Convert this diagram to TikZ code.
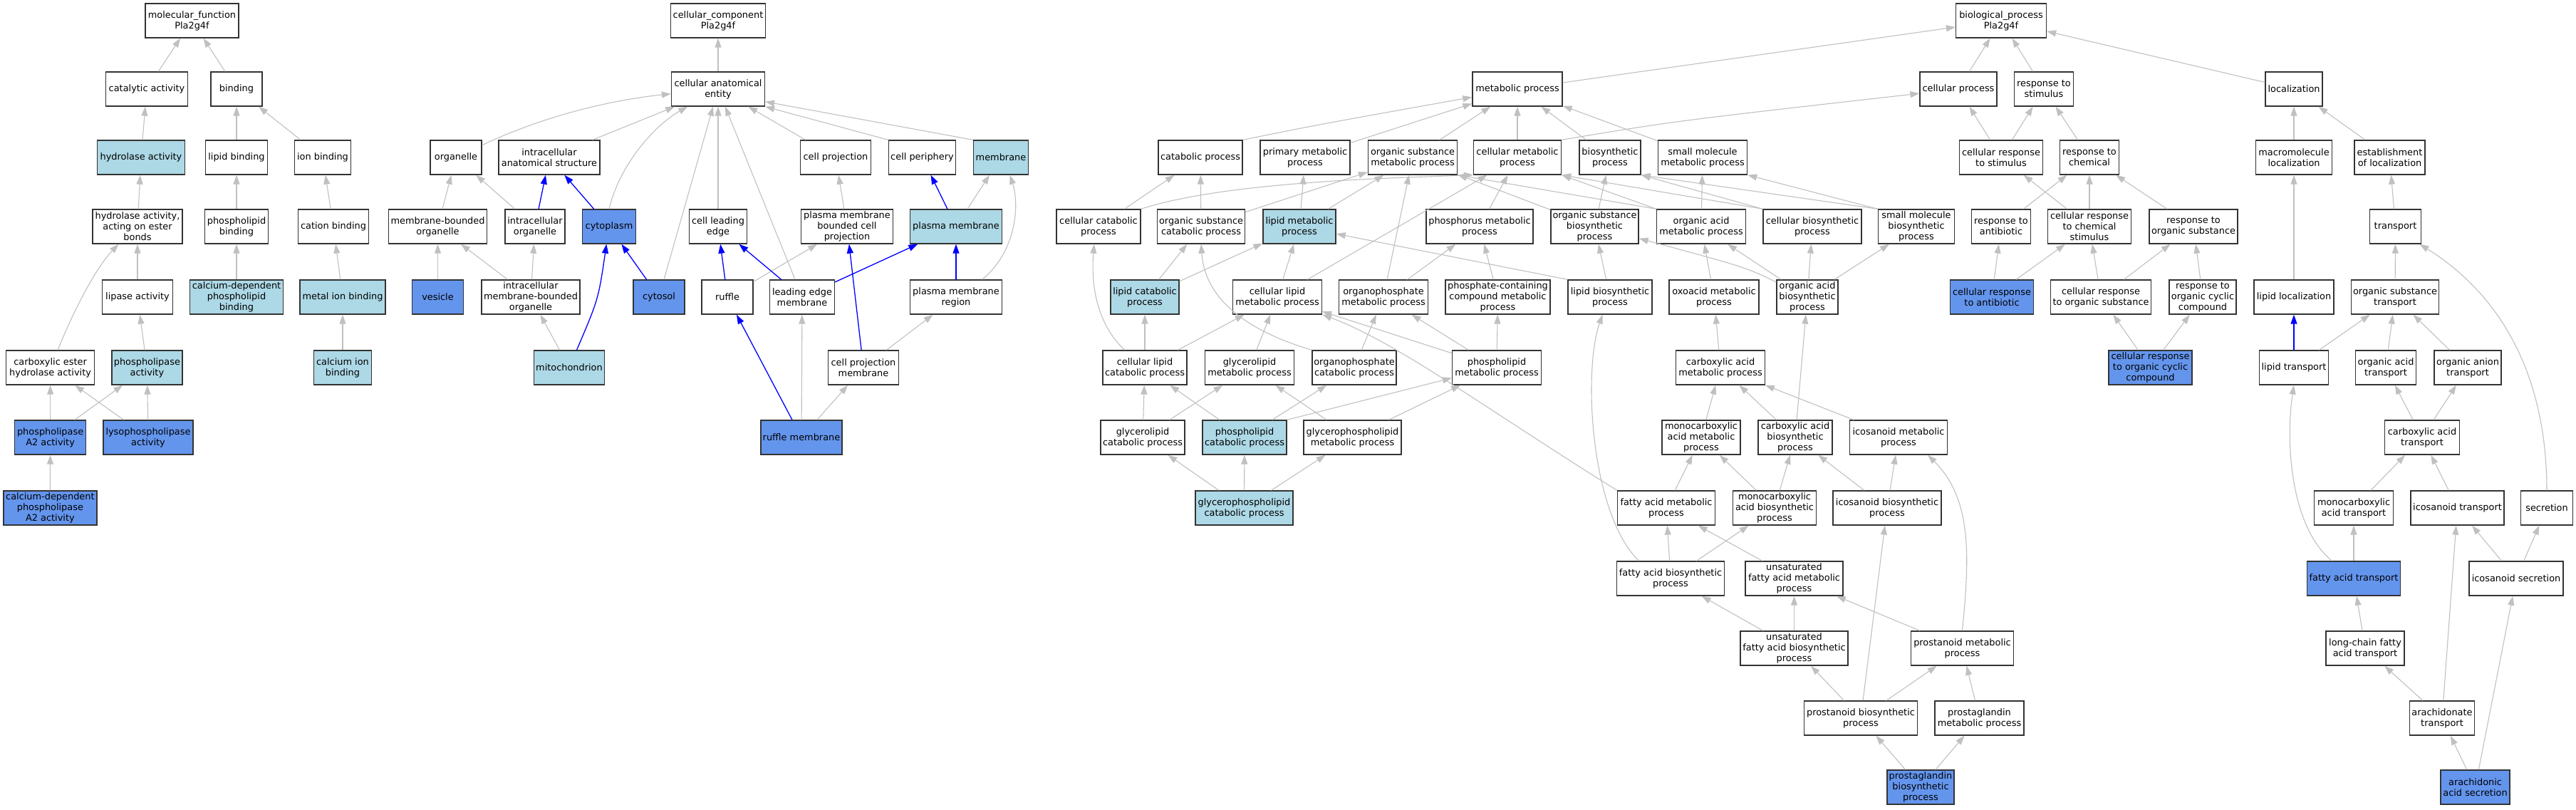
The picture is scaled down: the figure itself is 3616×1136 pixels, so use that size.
\documentclass[tikz,border=0pt]{standalone}
\usepackage{fontspec}
\setmainfont{DejaVu Sans}
\usetikzlibrary{arrows.meta}
\definecolor{lbfillc}{HTML}{ADD8E6}
\definecolor{cbfillc}{HTML}{6495ED}
\definecolor{edgegray}{RGB}{192,192,192}
\definecolor{edgeblue}{RGB}{0,0,255}
\newcommand{\gnode}[6]{\node[gbox,#5,minimum width=#4pt] (#1) at (#2,#3) {#6};}
\begin{document}
\begin{tikzpicture}[x=1pt,y=-1pt,
  gbox/.style={draw=black!80, line width=1.3pt, fill=white, minimum height=48pt,
    inner xsep=1pt, inner ysep=1pt, align=center, font=\fontsize{12.9}{15}\selectfont},
  lbfill/.style={fill=lbfillc},
  cbfill/.style={fill=cbfillc},
  gedge/.style={draw=edgegray, line width=1.1pt, -{Triangle[length=13pt,width=9pt]}},
  bedge/.style={draw=edgeblue, line width=1.3pt, -{Triangle[length=13pt,width=9pt]}}]
\useasboundingbox (0,0) rectangle (3616,1136);
% ---------------- molecular function
\gnode{mf}{269.5}{29}{131}{}{molecular\_function\\Pla2g4f}
\gnode{cat}{206}{125}{115}{}{catalytic activity}
\gnode{bind}{332}{125}{72}{}{binding}
\gnode{hyd}{198}{221}{123}{lbfill}{hydrolase activity}
\gnode{lipb}{332}{221}{87}{}{lipid binding}
\gnode{ionb}{453}{221}{79}{}{ion binding}
\gnode{hest}{193}{318}{126}{}{hydrolase activity,\\acting on ester\\bonds}
\gnode{plb}{332}{318}{89}{}{phospholipid\\binding}
\gnode{catb}{468}{318}{99}{}{cation binding}
\gnode{lipase}{193}{417}{99}{}{lipase activity}
\gnode{cdpb}{332}{417}{131}{lbfill}{calcium-dependent\\phospholipid\\binding}
\gnode{mib}{481}{417}{120}{lbfill}{metal ion binding}
\gnode{ceh}{70.6}{516}{124}{}{carboxylic ester\\hydrolase activity}
\gnode{pla}{206.4}{516}{99}{lbfill}{phospholipase\\activity}
\gnode{cib}{481}{516}{81}{lbfill}{calcium ion\\binding}
\gnode{pla2}{70.6}{614}{100}{cbfill}{phospholipase\\A2 activity}
\gnode{lyso}{208}{614}{126}{cbfill}{lysophospholipase\\activity}
\gnode{cdpla2}{70.4}{713}{131}{cbfill}{calcium-dependent\\phospholipase\\A2 activity}
% ---------------- cellular component
\gnode{ccr}{1008}{29}{133}{}{cellular\_component\\Pla2g4f}
\gnode{cae}{1008}{125}{131}{}{cellular anatomical\\entity}
\gnode{orgl}{640}{221}{72}{}{organelle}
\gnode{ias}{771}{221}{142}{}{intracellular\\anatomical structure}
\gnode{cproj}{1173}{221}{99}{}{cell projection}
\gnode{cper}{1294.5}{221}{94}{}{cell periphery}
\gnode{memb}{1405}{221}{77}{lbfill}{membrane}
\gnode{mbo}{614.5}{318}{138}{}{membrane-bounded\\organelle}
\gnode{io}{751}{318}{84}{}{intracellular\\organelle}
\gnode{cyto}{855}{318}{75}{cbfill}{cytoplasm}
\gnode{cle}{1008}{318}{81}{}{cell leading\\edge}
\gnode{pmbcp}{1189}{318}{129}{}{plasma membrane\\bounded cell\\projection}
\gnode{pm}{1342}{318}{129}{lbfill}{plasma membrane}
\gnode{ves}{614.5}{417}{72}{cbfill}{vesicle}
\gnode{imbo}{745}{417}{138}{}{intracellular\\membrane-bounded\\organelle}
\gnode{cytosol}{925}{417}{72}{cbfill}{cytosol}
\gnode{ruffle}{1021}{417}{72}{}{ruffle}
\gnode{lem}{1126}{417}{91}{}{leading edge\\membrane}
\gnode{pmr}{1342}{417}{129}{}{plasma membrane\\region}
\gnode{mito}{799}{516}{99}{lbfill}{mitochondrion}
\gnode{cpm}{1212}{516}{99}{}{cell projection\\membrane}
\gnode{rm}{1125}{614}{114}{cbfill}{ruffle membrane}
% ---------------- biological process
\gnode{bpr}{2809}{29}{127}{}{biological\_process\\Pla2g4f}
\gnode{met}{2130}{125}{126}{}{metabolic process}
\gnode{cp}{2749}{125}{108}{}{cellular process}
\gnode{rs}{2869}{125}{83}{}{response to\\stimulus}
\gnode{loc}{3220}{125}{80}{}{localization}
\gnode{catp}{1685}{221}{118}{}{catabolic process}
\gnode{pmp}{1832}{221}{126}{}{primary metabolic\\process}
\gnode{osmp}{1983}{221}{125}{}{organic substance\\metabolic process}
\gnode{cmp}{2130}{221}{123}{}{cellular metabolic\\process}
\gnode{bsp}{2260}{221}{86}{}{biosynthetic\\process}
\gnode{smmp}{2390}{221}{125}{}{small molecule\\metabolic process}
\gnode{crs}{2809}{221}{117}{}{cellular response\\to stimulus}
\gnode{rc}{2933}{221}{83}{}{response to\\chemical}
\gnode{mloc}{3220}{221}{107}{}{macromolecule\\localization}
\gnode{eloc}{3354.5}{221}{99}{}{establishment\\of localization}
\gnode{ccp}{1542}{318}{118}{}{cellular catabolic\\process}
\gnode{oscp}{1686}{318}{123}{}{organic substance\\catabolic process}
\gnode{lmp}{1824}{318}{102}{lbfill}{lipid metabolic\\process}
\gnode{phmp}{2077}{318}{150}{}{phosphorus metabolic\\process}
\gnode{osbp}{2238.5}{318}{123}{}{organic substance\\biosynthetic\\process}
\gnode{oamp}{2388}{318}{125}{}{organic acid\\metabolic process}
\gnode{cbp}{2544}{318}{138}{}{cellular biosynthetic\\process}
\gnode{smbp}{2690}{318}{107}{}{small molecule\\biosynthetic\\process}
\gnode{rab}{2809}{318}{83}{}{response to\\antibiotic}
\gnode{crcs}{2933}{318}{117}{}{cellular response\\to chemical\\stimulus}
\gnode{ros}{3079}{318}{124}{}{response to\\organic substance}
\gnode{trans}{3362.5}{318}{72}{}{transport}
\gnode{lcp}{1607}{417}{96}{lbfill}{lipid catabolic\\process}
\gnode{clmp}{1793}{417}{125}{}{cellular lipid\\metabolic process}
\gnode{opmp}{1942}{417}{125}{}{organophosphate\\metabolic process}
\gnode{pccmp}{2102.5}{417}{147}{}{phosphate-containing\\compound metabolic\\process}
\gnode{lbp}{2260}{417}{118}{}{lipid biosynthetic\\process}
\gnode{oxmp}{2406}{417}{126}{}{oxoacid metabolic\\process}
\gnode{oabp}{2537}{417}{86}{}{organic acid\\biosynthetic\\process}
\gnode{cra}{2796}{417}{117}{cbfill}{cellular response\\to antibiotic}
\gnode{cros}{2949}{417}{141}{}{cellular response\\to organic substance}
\gnode{rocc}{3092}{417}{94}{}{response to\\organic cyclic\\compound}
\gnode{lloc}{3220}{417}{112}{}{lipid localization}
\gnode{ost}{3362}{417}{123}{}{organic substance\\transport}
\gnode{clcp}{1607}{516}{118}{}{cellular lipid\\catabolic process}
\gnode{glmp}{1754}{516}{125}{}{glycerolipid\\metabolic process}
\gnode{opcp}{1901}{516}{118}{}{organophosphate\\catabolic process}
\gnode{plmp}{2101}{516}{125}{}{phospholipid\\metabolic process}
\gnode{camp}{2415}{516}{125}{}{carboxylic acid\\metabolic process}
\gnode{crocc}{3018.5}{516}{117}{cbfill}{cellular response\\to organic cyclic\\compound}
\gnode{lt}{3220}{516}{97}{}{lipid transport}
\gnode{oat}{3349}{516}{85}{}{organic acid\\transport}
\gnode{oant}{3464}{516}{94}{}{organic anion\\transport}
\gnode{glcp}{1604}{614}{118}{}{glycerolipid\\catabolic process}
\gnode{plcp}{1747}{614}{118}{lbfill}{phospholipid\\catabolic process}
\gnode{gpmp}{1898.5}{614}{137}{}{glycerophospholipid\\metabolic process}
\gnode{mamp}{2388}{614}{110}{}{monocarboxylic\\acid metabolic\\process}
\gnode{cabp}{2520}{614}{104}{}{carboxylic acid\\biosynthetic\\process}
\gnode{icmp}{2665}{614}{137}{}{icosanoid metabolic\\process}
\gnode{cat2}{3400}{614}{105}{}{carboxylic acid\\transport}
\gnode{gpcp}{1746.5}{713}{137}{lbfill}{glycerophospholipid\\catabolic process}
\gnode{famp}{2339}{713}{137}{}{fatty acid metabolic\\process}
\gnode{mabp}{2491}{713}{117}{}{monocarboxylic\\acid biosynthetic\\process}
\gnode{icbp}{2649}{713}{152}{}{icosanoid biosynthetic\\process}
\gnode{mat}{3304}{713}{111}{}{monocarboxylic\\acid transport}
\gnode{ict}{3449.5}{713}{131}{}{icosanoid transport}
\gnode{sec}{3575}{713}{73}{}{secretion}
\gnode{fabp}{2345}{812}{151}{}{fatty acid biosynthetic\\process}
\gnode{ufamp}{2518.5}{812}{137}{}{unsaturated\\fatty acid metabolic\\process}
\gnode{fat}{3304}{812}{131}{cbfill}{fatty acid transport}
\gnode{ics}{3532}{812}{132}{}{icosanoid secretion}
\gnode{ufabp}{2518.5}{910}{151}{}{unsaturated\\fatty acid biosynthetic\\process}
\gnode{pnmp}{2754.5}{910}{144}{}{prostanoid metabolic\\process}
\gnode{lcfat}{3320}{910}{110}{}{long-chain fatty\\acid transport}
\gnode{pnbp}{2612}{1008}{159}{}{prostanoid biosynthetic\\process}
\gnode{pgmp}{2778.5}{1008}{125}{}{prostaglandin\\metabolic process}
\gnode{arat}{3428}{1008}{91}{}{arachidonate\\transport}
\gnode{pgbp}{2696}{1105}{94}{cbfill}{prostaglandin\\biosynthetic\\process}
\gnode{aas}{3474.5}{1105}{97}{cbfill}{arachidonic\\acid secretion}
% ---------------- edges MF
\foreach \c/\p in {cat/mf,bind/mf,hyd/cat,lipb/bind,ionb/bind,hest/hyd,plb/lipb,catb/ionb,
  lipase/hest,cdpb/plb,mib/catb,pla/lipase,cib/mib,pla2/ceh,pla2/pla,lyso/ceh,lyso/pla,cdpla2/pla2}
  \draw[gedge] (\c) -- (\p);
\draw[gedge] (ceh.67) .. controls (110,420) and (140,370) .. (hest.-137);
% ---------------- edges CC
\foreach \c/\p in {cae/ccr,ias/cae,cle/cae,cytosol/cae,lem/cae,cproj/cae,mbo/orgl,io/orgl,
  ves/mbo,imbo/mbo,imbo/io,mito/imbo,ruffle/pmbcp,pmbcp/cproj,pm/memb,cpm/pmr,rm/lem,rm/cpm}
  \draw[gedge] (\c) -- (\p);
\draw[gedge] (cper.north west) -- (cae.south east);
\draw[gedge] (memb.north west) -- (cae.-15);
\draw[gedge] (orgl) .. controls (780,155) and (880,138) .. (cae);
\draw[gedge] (cyto.north) .. controls (870,230) and (920,175) .. (cae.-150);
\draw[gedge] (pmr.34) .. controls (1425,355) and (1432,290) .. (memb.-63);
\foreach \c/\p in {io/ias,cyto/ias,cytosol/cyto,ruffle/cle,lem/cle,lem/pm,pm/cper,pmr/pm,
  cpm/pmbcp,rm/ruffle}
  \draw[bedge] (\c) -- (\p);
\draw[bedge] (mito) .. controls (840,420) .. (cyto);
% ---------------- edges BP
\foreach \c/\p in {met/bpr,cp/bpr,rs/bpr,loc/bpr,pmp/met,osmp/met,cmp/met,bsp/met,smmp/met,
  crs/cp,crs/rs,rc/rs,mloc/loc,eloc/loc,ccp/catp,oscp/catp,oscp/osmp,lmp/pmp,lmp/osmp,
  phmp/cmp,osbp/bsp,osbp/osmp,oamp/smmp,
  rab/rc,crcs/crs,crcs/rc,ros/rc,trans/eloc,
  lcp/oscp,lcp/lmp,clmp/lmp,clmp/cmp,opmp/osmp,opmp/phmp,pccmp/phmp,lbp/osbp,oxmp/oamp,
  oabp/oamp,oabp/cbp,oabp/smbp,cra/rab,cra/crcs,cros/crcs,cros/ros,rocc/ros,lloc/mloc,ost/trans,
  clcp/lcp,clcp/clmp,glmp/clmp,opcp/opmp,plmp/clmp,plmp/opmp,plmp/pccmp,camp/oxmp,
  crocc/cros,crocc/rocc,lt/ost,oat/ost,oant/ost,
  glcp/clcp,glcp/glmp,plcp/clcp,plcp/opcp,gpmp/glmp,gpmp/plmp,mamp/camp,cabp/camp,
  cabp/oabp,icmp/camp,cat2/oat,cat2/oant,
  gpcp/glcp,gpcp/plcp,gpcp/gpmp,famp/mamp,mabp/mamp,mabp/cabp,icbp/cabp,icbp/icmp,
  mat/cat2,ict/cat2,fabp/famp,fabp/mabp,ufamp/famp,fat/mat,ics/ict,ics/sec,
  ufabp/fabp,ufabp/ufamp,pnmp/ufamp,lcfat/fat,pnbp/ufabp,pnbp/pnmp,pnbp/icbp,pgmp/pnmp,
  arat/lcfat,arat/ict,pgbp/pnbp,pgbp/pgmp,aas/arat,aas/ics}
  \draw[gedge] (\c) -- (\p);
\draw[gedge] (lbp.north west) -- (lmp);
\draw[gedge] (oamp.north west) -- (osmp.south east);
\draw[gedge] (oamp.north west) -- (cmp.south east);
\draw[gedge] (cbp.north west) -- (cmp.south east);
\draw[gedge] (cbp.north west) -- (bsp.south east);
\draw[gedge] (smbp.north west) -- (bsp.south east);
\draw[gedge] (smbp.north west) -- (smmp.south east);
\draw[gedge] (plcp.north east) -- (plmp.-167);
\draw[gedge] (oabp) .. controls (2450,375) .. (osbp);
\draw[gedge] (catp.north east) .. controls (1850,175) .. (met);
\draw[gedge] (cmp.north east) .. controls (2350,170) .. (cp);
\draw[gedge] (ccp.north east) .. controls (1720,255) and (1950,250) .. (cmp.south west);
\draw[gedge] (clcp.139) .. controls (1535,450) and (1532,390) .. (ccp.-104);
\draw[gedge] (opcp.north west) .. controls (1720,455) and (1690,400) .. (oscp.south);
\draw[gedge] (famp.north west) .. controls (2080,570) and (1960,480) .. (clmp.south east);
\draw[gedge] (fabp.151) .. controls (2232,720) and (2222,520) .. (lbp.-113);
\draw[gedge] (pnmp.north) .. controls (2765,780) and (2768,700) .. (icmp.-31);
\draw[gedge] (sec.north) .. controls (3575,540) and (3520,420) .. (trans.-36);
\draw[gedge] (fat.141) .. controls (3215,740) and (3208,620) .. (lt.south);
\draw[bedge] (lt) -- (lloc);
\end{tikzpicture}
\end{document}
